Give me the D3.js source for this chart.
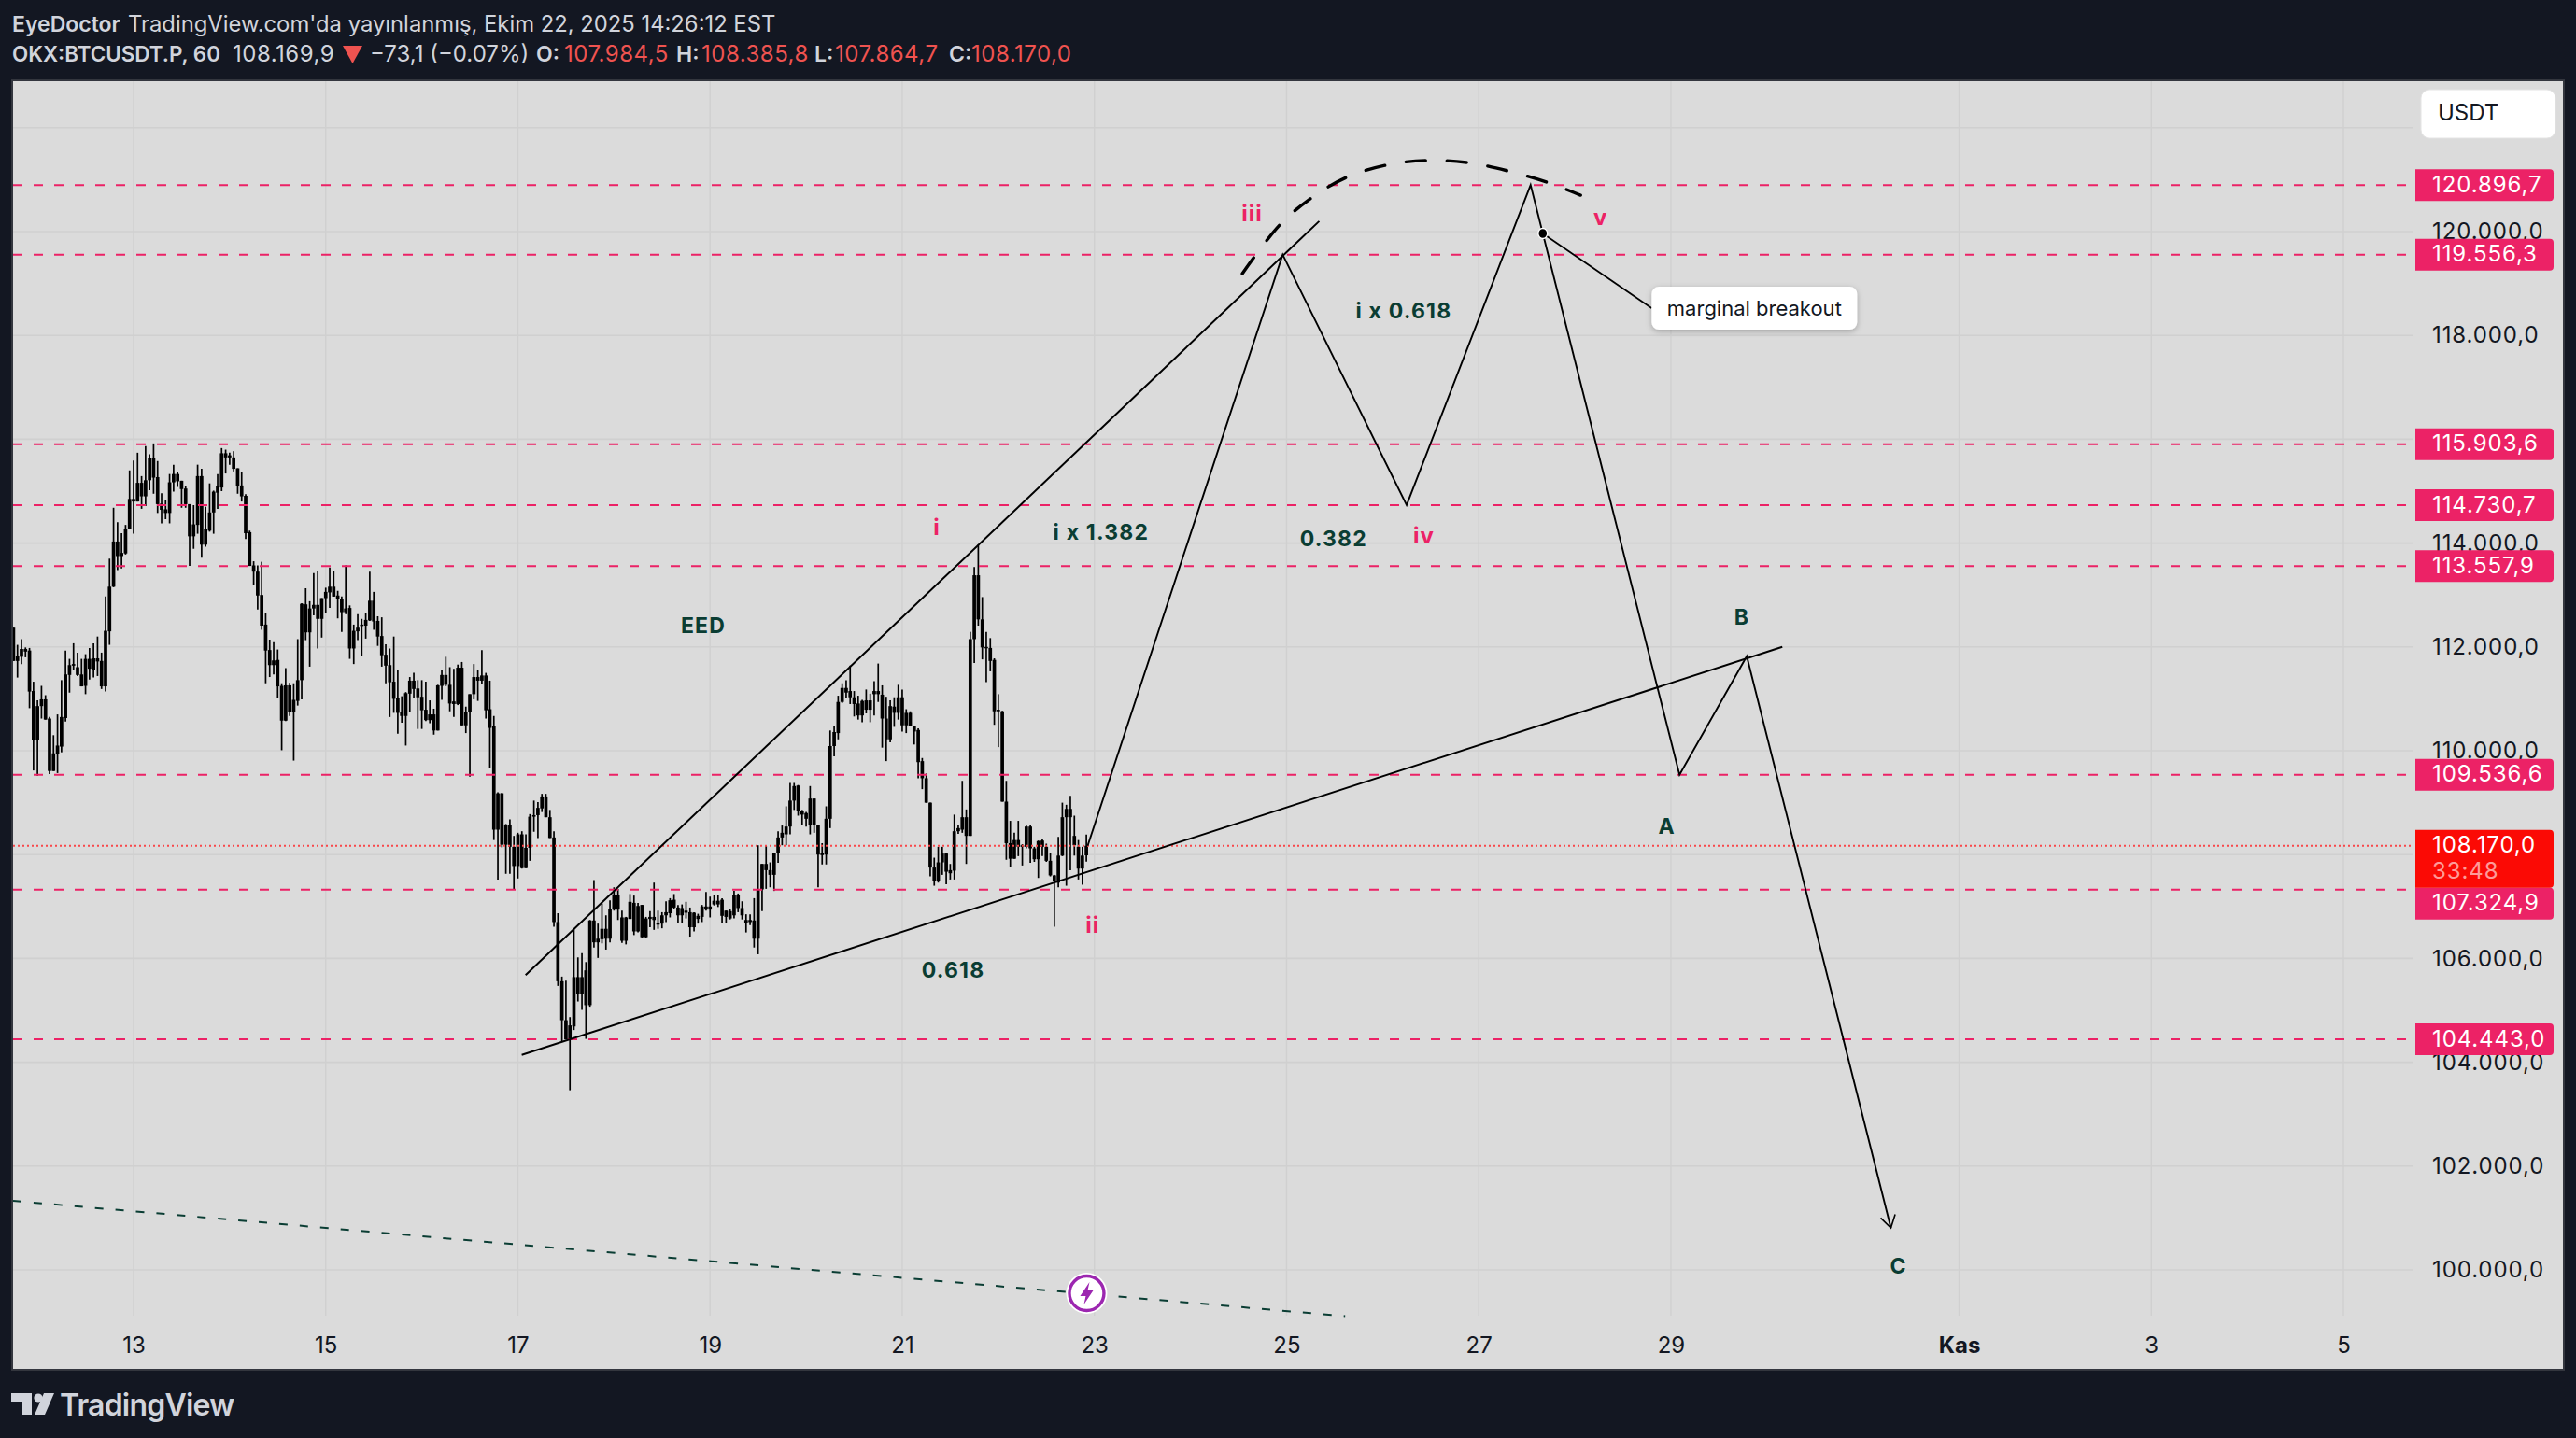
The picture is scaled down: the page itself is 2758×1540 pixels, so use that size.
<!DOCTYPE html>
<html>
<head>
<meta charset="utf-8">
<script src="https://cdnjs.cloudflare.com/ajax/libs/d3/7.8.5/d3.min.js"></script>
<style>
  html, body { margin: 0; padding: 0; background: #131722; }
  svg { display: block; }
  text { font-family: Inter, "Noto Sans", sans-serif; }
</style>
</head>
<body>
<svg id="chart" width="2758" height="1540"></svg>
<script>
// all prices in thousands of USDT, all times in days of October (32 = 1 Kas)

// hourly candles, first one sits at day 11.75. every candle is black so only body top/bottom matter
const highs = [
  112.37,112.04,112.15,111.99,111.98,111.33,110.97,111.25,111.07,110.65,
  110.30,110.70,111.36,111.93,111.77,112.07,111.89,111.77,111.86,111.98,
  112.07,112.20,111.89,112.97,113.70,114.68,114.40,114.19,114.35,115.40,
  115.59,115.74,115.29,115.87,115.71,115.92,115.58,114.96,114.83,115.33,
  115.51,115.37,115.20,115.09,114.75,114.73,115.51,115.43,114.70,115.15,
  115.01,115.33,115.83,115.80,115.74,115.77,115.44,115.36,114.94,114.24,
  113.65,113.57,113.64,112.65,112.14,112.09,111.95,111.30,111.59,111.31,
  111.30,112.15,112.84,113.13,112.88,113.42,113.47,112.94,113.14,113.53,
  113.47,113.08,112.97,113.57,112.80,112.43,112.63,112.54,112.65,113.45,
  113.06,112.59,112.57,112.05,111.97,112.20,111.55,111.05,111.13,111.42,
  111.50,111.36,111.36,111.33,110.97,110.81,111.27,111.55,111.81,111.61,
  111.58,111.66,111.71,110.85,111.09,111.67,111.55,111.94,111.50,111.35,
  110.67,109.20,109.19,108.59,108.68,108.36,108.42,108.45,108.39,108.78,
  109.04,109.01,109.17,109.17,108.86,108.45,106.87,105.65,105.57,104.87,
  106.56,106.02,106.10,105.93,106.74,107.51,106.67,107.06,106.83,107.12,
  107.37,107.34,106.92,106.80,107.24,107.21,107.07,107.03,106.80,106.91,
  107.46,106.92,106.89,107.10,107.16,107.24,107.03,107.04,107.09,106.98,
  106.89,106.86,107.03,107.28,107.19,107.22,107.22,107.16,106.92,106.95,
  107.30,107.25,107.10,106.85,106.85,107.16,108.18,107.82,108.17,107.85,
  108.03,108.45,108.56,108.93,109.38,109.38,109.34,108.86,108.82,109.32,
  109.08,108.57,108.22,108.93,110.39,110.48,111.06,111.30,111.36,111.64,
  111.15,111.06,110.98,111.18,111.10,111.34,111.68,111.26,111.04,110.97,
  111.03,111.27,111.18,110.80,110.76,110.48,110.43,109.86,109.56,109.00,
  107.94,108.15,108.15,108.03,107.82,108.77,108.57,109.42,108.87,112.29,
  113.54,113.97,112.96,112.29,112.17,111.78,111.09,110.77,109.42,108.65,
  108.42,108.65,108.20,108.56,108.57,108.15,108.27,108.30,108.21,108.04,
  107.61,108.34,109.00,108.96,109.13,108.75,108.28,108.15,108.386
];
const lows = [
  111.73,111.41,111.67,111.80,110.82,109.62,109.52,110.62,110.60,109.55,
  109.61,109.57,109.97,110.56,111.12,111.55,111.44,111.24,111.09,111.37,
  111.41,111.44,111.19,111.14,112.04,113.15,113.48,113.51,113.78,114.27,
  114.18,114.80,114.66,114.71,115.02,114.95,114.58,114.38,114.46,114.38,
  114.99,115.08,114.68,114.68,113.56,113.89,114.18,113.72,113.93,114.22,
  114.18,114.66,115.00,115.34,115.51,115.38,114.95,114.80,114.08,113.56,
  113.20,112.72,112.33,111.30,111.42,111.47,111.02,110.01,110.57,110.67,
  109.81,110.87,110.99,112.13,111.62,112.61,111.97,112.18,112.65,112.75,
  112.97,112.55,112.29,112.63,111.77,111.67,112.13,111.82,112.16,112.50,
  112.33,112.02,111.62,111.30,110.65,110.73,110.33,110.54,110.10,110.75,
  111.01,110.42,110.42,110.57,110.53,110.31,110.39,110.98,111.24,110.76,
  110.65,110.88,110.49,110.34,109.50,110.99,110.96,111.29,110.62,109.66,
  108.28,107.52,108.14,107.63,107.63,107.32,107.54,107.73,107.74,107.88,
  108.44,108.32,108.82,108.72,108.32,106.61,105.47,104.40,104.44,103.46,
  104.62,105.17,105.01,104.45,105.07,106.21,106.01,106.29,106.17,106.31,
  106.92,106.74,106.30,106.27,106.76,106.45,106.50,106.40,106.40,106.60,
  106.55,106.57,106.58,106.70,106.79,106.95,106.69,106.69,106.77,106.42,
  106.52,106.67,106.70,106.92,106.79,107.02,106.99,106.68,106.68,106.75,
  106.77,106.89,106.75,106.50,106.64,106.21,106.08,106.91,107.34,107.37,
  107.30,107.84,108.18,108.18,108.39,108.86,108.75,108.57,108.54,108.39,
  108.42,107.37,107.81,107.81,108.51,109.89,110.22,110.92,111.02,110.90,
  110.66,110.60,110.55,110.72,110.55,110.68,110.94,110.06,109.80,110.16,
  110.46,110.60,110.37,110.34,110.48,110.12,109.47,109.26,109.00,107.58,
  107.40,107.46,107.61,107.43,107.52,107.52,108.40,108.42,107.82,108.36,
  111.69,112.41,111.76,111.32,111.53,110.50,110.07,109.02,107.90,107.76,
  107.92,107.97,107.79,108.12,107.84,107.86,107.55,107.97,107.86,107.58,
  106.61,107.37,107.97,107.40,107.70,107.98,107.52,107.42,107.865
];
const bodyTops = [
  112.37,111.83,111.96,111.96,111.93,111.15,110.86,110.99,110.99,110.62,
  109.95,110.10,110.65,111.47,111.65,111.67,111.61,111.47,111.77,111.77,
  111.78,111.78,111.73,112.31,113.16,114.03,114.03,113.81,114.28,114.85,
  114.85,115.16,115.16,115.21,115.64,115.64,115.27,114.76,114.65,115.17,
  115.33,115.33,115.20,115.05,114.75,114.36,115.29,115.29,114.27,114.59,
  114.99,115.09,115.73,115.73,115.69,115.65,115.44,115.11,114.91,114.21,
  113.57,113.45,113.00,112.43,111.94,111.74,111.75,111.25,111.26,111.26,
  110.98,111.36,112.83,112.82,112.74,112.81,112.81,112.94,113.06,113.16,
  113.16,112.99,112.93,112.74,112.75,112.31,112.37,112.43,112.52,112.89,
  112.89,112.50,112.21,111.85,111.65,111.33,111.01,110.74,111.11,111.35,
  111.35,111.20,111.04,110.79,110.70,110.70,111.26,111.46,111.46,111.27,
  110.95,111.60,111.60,110.75,111.09,111.42,111.42,111.45,111.45,110.80,
  110.47,109.18,109.18,108.57,108.57,108.15,108.39,108.39,108.13,108.73,
  108.76,108.90,109.12,109.12,108.72,108.33,106.70,105.56,104.81,104.71,
  105.64,105.64,105.64,105.77,106.73,106.73,106.38,106.57,106.57,106.95,
  107.22,107.22,106.79,106.79,107.09,107.07,107.01,107.03,106.77,106.80,
  106.80,106.68,106.83,106.89,107.12,107.13,106.98,106.97,106.92,106.89,
  106.88,106.82,107.00,107.00,107.00,107.11,107.11,107.13,106.92,106.91,
  107.22,107.22,106.97,106.74,106.74,106.73,107.33,107.82,107.82,107.70,
  108.03,108.33,108.42,108.54,109.04,109.32,109.33,108.84,108.80,109.08,
  109.08,108.57,108.03,108.69,110.09,110.36,110.94,111.21,111.21,111.15,
  111.03,110.91,110.96,110.97,110.97,111.15,111.15,111.08,110.62,110.86,
  110.85,111.03,111.03,110.73,110.73,110.48,110.40,109.80,109.47,109.00,
  107.75,107.85,108.02,108.02,107.70,108.45,108.51,108.72,108.72,112.15,
  113.38,113.38,112.53,112.00,111.98,111.75,110.79,110.76,109.02,108.22,
  108.28,108.28,108.18,108.54,108.54,108.12,108.26,108.27,108.15,107.88,
  107.60,107.98,108.72,108.88,108.88,108.36,108.15,107.98,108.170
];
const bodyBottoms = [
  111.73,111.73,111.81,111.91,111.14,110.20,110.20,110.86,110.60,109.61,
  109.61,109.93,110.08,110.63,111.46,111.64,111.46,111.24,111.25,111.58,
  111.56,111.72,111.24,111.24,112.30,113.16,113.75,113.75,113.80,114.27,
  114.80,114.80,114.90,114.90,115.21,115.26,114.75,114.64,114.58,114.58,
  115.17,115.19,115.04,114.75,114.13,114.13,114.35,113.97,113.97,114.24,
  114.59,114.97,115.07,115.65,115.65,115.43,115.10,114.90,114.19,113.56,
  113.45,112.99,112.41,111.93,111.65,111.65,111.24,110.58,110.58,110.74,
  110.74,110.96,111.36,112.28,112.28,112.74,112.54,112.54,112.94,113.05,
  112.97,112.93,112.67,112.67,111.97,111.97,112.30,112.41,112.41,112.51,
  112.49,112.20,111.84,111.64,111.32,111.00,110.73,110.67,110.67,111.10,
  111.19,111.03,110.78,110.59,110.59,110.39,110.39,111.25,111.27,110.91,
  110.90,110.90,110.49,110.49,110.74,111.09,111.35,111.35,110.78,110.44,
  108.48,108.48,108.19,108.19,108.15,107.78,107.78,107.74,107.74,108.13,
  108.73,108.76,108.89,108.72,108.32,106.70,105.56,104.81,104.44,104.44,
  104.69,105.31,105.31,105.10,105.10,106.31,106.31,106.37,106.38,106.38,
  106.94,106.94,106.34,106.34,106.76,106.52,106.52,106.41,106.41,106.76,
  106.74,106.65,106.67,106.83,106.87,106.98,106.83,106.83,106.88,106.60,
  106.60,106.76,106.80,106.94,106.94,107.04,107.04,106.82,106.80,106.77,
  106.83,106.97,106.83,106.68,106.70,106.38,106.38,107.33,107.70,107.61,
  107.61,108.03,108.33,108.39,108.54,109.04,108.84,108.77,108.69,108.57,
  108.57,108.00,107.99,108.00,108.69,110.09,110.34,110.94,111.12,111.03,
  110.90,110.68,110.68,110.79,110.79,111.09,111.09,110.62,110.22,110.22,
  110.73,110.73,110.49,110.49,110.48,110.37,109.78,109.47,109.00,107.75,
  107.49,107.49,107.85,107.67,107.64,107.69,108.45,108.48,108.36,108.36,
  112.15,112.53,111.99,111.98,111.73,110.76,110.76,109.02,108.22,107.92,
  107.92,108.15,108.15,108.15,108.12,107.91,107.91,108.15,107.88,107.60,
  107.49,107.46,107.98,108.72,108.72,108.18,107.73,107.73,107.985
];
const firstCandleDay = 11.75;

// axes
const timeTicks = [13, 15, 17, 19, 21, 23, 25, 27, 29, 32, 34, 36];
const timeTickLabels = ['13', '15', '17', '19', '21', '23', '25', '27', '29', 'Kas', '3', '5'];
const gridPrices = [100, 102, 104, 106, 108, 110, 112, 114, 116, 118, 120, 122];
// 108, 116 and 122 sit fully behind other labels in the picture, so no text for them
const priceTicks = [100, 102, 104, 106, 110, 112, 114, 118, 120];

// horizontal levels
const levels = [120.8967, 119.5563, 115.9036, 114.7307, 113.5579, 109.5366, 107.3249, 104.443];
const lastPrice = 108.170;
const countdown = '33:48';

// drawings: [day, price]
const upperWedge = [[17.08, 105.68], [25.34, 120.2]];
const lowerWedge = [[17.04, 104.14], [30.16, 112.0]];
const wavePath = [[22.93, 108.17], [24.96, 119.556], [26.25, 114.731], [27.54, 120.897], [29.09, 109.537], [29.79, 111.82], [31.29, 100.81]];
const arcPath = [[24.54, 119.19], [24.93, 120.13], [25.26, 120.65], [25.62, 121.04], [26.04, 121.28], [26.45, 121.37], [26.88, 121.33], [27.30, 121.17], [27.71, 120.95], [28.06, 120.70]];
const greenDash = [[11.746, 101.33], [25.61, 99.11]];
const calloutAnchor = [27.667, 119.964];
const calloutBoxAt = [28.80, 118.525];
const calloutText = 'marginal breakout';
const boltAt = [22.92, 99.55];

// text notes: [label, day, price]
const greenNotes = [
  ['EED', 18.93, 112.41], ['i x 1.382', 23.07, 114.209], ['i x 0.618', 26.22, 118.471],
  ['0.382', 25.49, 114.083], ['0.618', 21.53, 105.773],
  ['A', 28.96, 108.543], ['B', 29.74, 112.572], ['C', 31.37, 100.077]
];
const pinkNotes = [
  ['i', 21.36, 114.298], ['ii', 22.98, 106.636], ['iii', 24.64, 120.342],
  ['iv', 26.43, 114.146], ['v', 28.27, 120.275]
];

const BG = '#131722', PANE = '#dbdbdb', GRID = '#d0d0d0', PINK = '#ec2266', RED = '#fb0a05';
const GREEN = '#0a3d33', INK = '#131722';

const pane = { left: 14, right: 2744, top: 87, bottom: 1466, plotRight: 2584, plotBottom: 1409 };

const x = d3.scaleLinear().domain([13, 36]).range([143, 2509]);
const y = d3.scaleLinear().domain([100, 120]).range([1360, 248]);

const locale = d3.formatLocale({ decimal: ',', thousands: '.', grouping: [3], currency: ['', ''] });
const fmtPrice = (v) => locale.format(',.1f')(v * 1000);

const svg = d3.select('#chart');
svg.append('rect').attr('width', 2758).attr('height', 1540).attr('fill', BG);

const defs = svg.append('defs');
defs.append('clipPath').attr('id', 'plotClip').append('rect')
  .attr('x', pane.left).attr('y', pane.top)
  .attr('width', pane.plotRight - pane.left).attr('height', pane.plotBottom - pane.top);
const shadow = defs.append('filter').attr('id', 'boxShadow')
  .attr('x', '-10%').attr('y', '-20%').attr('width', '120%').attr('height', '150%');
shadow.append('feDropShadow').attr('dx', 0).attr('dy', 2).attr('stdDeviation', 3)
  .attr('flood-color', '#000').attr('flood-opacity', 0.25);
defs.append('marker').attr('id', 'openArrow').attr('markerUnits', 'userSpaceOnUse')
  .attr('markerWidth', 30).attr('markerHeight', 30).attr('refX', 20).attr('refY', 15).attr('orient', 'auto')
  .append('path').attr('d', 'M7,7 L20,15 L7,23').attr('fill', 'none').attr('stroke', '#000').attr('stroke-width', 1.6);

// pane with its thin border
svg.append('rect')
  .attr('x', pane.left - 1).attr('y', pane.top - 1)
  .attr('width', pane.right - pane.left + 2).attr('height', pane.bottom - pane.top + 2)
  .attr('fill', PANE).attr('stroke', '#33363e').attr('stroke-width', 2);

// grid
const grid = svg.append('g');
grid.selectAll('.v').data(timeTicks).join('line')
  .attr('x1', (d) => x(d)).attr('x2', (d) => x(d))
  .attr('y1', pane.top).attr('y2', pane.plotBottom)
  .attr('stroke', GRID).attr('stroke-width', 1.4);
grid.selectAll('.h').data(gridPrices).join('line')
  .attr('x1', pane.left).attr('x2', pane.plotRight)
  .attr('y1', (d) => y(d)).attr('y2', (d) => y(d))
  .attr('stroke', GRID).attr('stroke-width', 1.6);

// axes
const xAxis = d3.axisBottom(x).tickValues(timeTicks).tickSize(0).tickPadding(0)
  .tickFormat((d, i) => timeTickLabels[i]);
const xAxisG = svg.append('g').attr('transform', 'translate(0,1440)').call(xAxis);
xAxisG.select('.domain').remove();
xAxisG.selectAll('text').attr('dy', '0.36em').attr('font-size', 24).attr('fill', INK)
  .attr('font-family', 'Inter, sans-serif')
  .attr('font-weight', (d) => (d === 32 ? 700 : 400));

const yAxis = d3.axisRight(y).tickValues(priceTicks).tickSize(0).tickPadding(0).tickFormat(fmtPrice);
const yAxisG = svg.append('g').attr('transform', 'translate(2604,0)').call(yAxis);
yAxisG.select('.domain').remove();
yAxisG.selectAll('text').attr('font-size', 24).attr('fill', INK).attr('letter-spacing', 0.9)
  .attr('font-family', 'Inter, sans-serif');

// candles
const plot = svg.append('g').attr('clip-path', 'url(#plotClip)');
const candleX = (i) => x(firstCandleDay + i / 24);
plot.append('g').selectAll('line').data(highs).join('line')
  .attr('x1', (d, i) => candleX(i)).attr('x2', (d, i) => candleX(i))
  .attr('y1', (d) => y(d)).attr('y2', (d, i) => y(lows[i]))
  .attr('stroke', '#000').attr('stroke-width', 1.7);
plot.append('g').selectAll('rect').data(bodyTops).join('rect')
  .attr('x', (d, i) => candleX(i) - 1.85).attr('width', 3.7)
  .attr('y', (d) => y(d))
  .attr('height', (d, i) => Math.max(1.5, y(bodyBottoms[i]) - y(d)))
  .attr('fill', '#000');

// level lines and last price line
plot.append('g').selectAll('line').data(levels).join('line')
  .attr('x1', pane.left).attr('x2', pane.plotRight)
  .attr('y1', (d) => y(d)).attr('y2', (d) => y(d))
  .attr('stroke', PINK).attr('stroke-width', 2).attr('stroke-dasharray', '10 12');
plot.append('line')
  .attr('x1', pane.left).attr('x2', pane.plotRight)
  .attr('y1', y(lastPrice)).attr('y2', y(lastPrice))
  .attr('stroke', '#f9474a').attr('stroke-width', 2).attr('stroke-dasharray', '2 3');

// drawings
const line = d3.line().x((d) => x(d[0])).y((d) => y(d[1]));
const draw = svg.append('g');
[upperWedge, lowerWedge].forEach((pts) => {
  draw.append('path').attr('d', line(pts)).attr('fill', 'none').attr('stroke', '#000').attr('stroke-width', 2);
});
draw.append('path').attr('d', line(wavePath)).attr('fill', 'none').attr('stroke', '#000')
  .attr('stroke-width', 1.9).attr('stroke-linejoin', 'miter').attr('marker-end', 'url(#openArrow)');
draw.append('path').attr('d', line.curve(d3.curveCatmullRom)(arcPath)).attr('fill', 'none')
  .attr('stroke', '#000').attr('stroke-width', 3.4).attr('stroke-linecap', 'round')
  .attr('stroke-dasharray', '21 23');
line.curve(d3.curveLinear);
draw.append('path').attr('d', line(greenDash)).attr('fill', 'none').attr('stroke', GREEN)
  .attr('stroke-width', 2).attr('stroke-dasharray', '9 13');

// callout
draw.append('line')
  .attr('x1', x(calloutAnchor[0])).attr('y1', y(calloutAnchor[1]))
  .attr('x2', x(calloutBoxAt[0])).attr('y2', y(calloutBoxAt[1]))
  .attr('stroke', '#000').attr('stroke-width', 1.8);
draw.append('ellipse').attr('cx', x(calloutAnchor[0])).attr('cy', y(calloutAnchor[1]))
  .attr('rx', 5).attr('ry', 5.5).attr('fill', '#000').attr('stroke', '#fff').attr('stroke-width', 1.4);
const boxG = draw.append('g').attr('transform', `translate(${x(calloutBoxAt[0])},${y(calloutBoxAt[1])})`);
boxG.append('rect').attr('x', 0).attr('y', -23).attr('width', 220).attr('height', 46).attr('rx', 8)
  .attr('fill', '#fff').attr('filter', 'url(#boxShadow)');
boxG.append('text').attr('x', 110).attr('dy', '0.35em').attr('text-anchor', 'middle')
  .attr('font-size', 22).attr('fill', INK).text(calloutText);

// notes
draw.selectAll('.green').data(greenNotes).join('text')
  .attr('x', (d) => x(d[1])).attr('y', (d) => y(d[2])).attr('dy', '0.35em')
  .attr('text-anchor', 'middle').attr('font-size', 23).attr('font-weight', 700)
  .attr('letter-spacing', 1.2).attr('fill', GREEN).text((d) => d[0]);
draw.selectAll('.pink').data(pinkNotes).join('text')
  .attr('x', (d) => x(d[1])).attr('y', (d) => y(d[2])).attr('dy', '0.35em')
  .attr('text-anchor', 'middle').attr('font-size', 24).attr('font-weight', 700)
  .attr('letter-spacing', 1).attr('fill', PINK).text((d) => d[0]);

// lightning badge
const bolt = draw.append('g').attr('transform', `translate(${x(boltAt[0])},${y(boltAt[1])})`);
bolt.append('circle').attr('r', 22).attr('fill', '#fff');
bolt.append('circle').attr('r', 18.5).attr('fill', '#fff').attr('stroke', '#9c27b0').attr('stroke-width', 3.4);
bolt.append('path').attr('d', 'M3,-12 L-7,3 L-1,3 L-3,12 L7,-3 L1,-3 Z').attr('fill', '#9c27b0');

// right side labels
const labels = svg.append('g');
const labelShift = (d) => (d === 107.3249 ? 15 : 0);
const labelPath = (top, h) => `M2586,${top} H2730 a4,4 0 0 1 4,4 V${top + h - 4} a4,4 0 0 1 -4,4 H2586 Z`;
labels.selectAll('path').data(levels).join('path')
  .attr('d', (d) => labelPath(y(d) + labelShift(d) - 17, 34)).attr('fill', PINK);
labels.selectAll('text').data(levels).join('text')
  .attr('x', 2604).attr('y', (d) => y(d) + labelShift(d)).attr('dy', '0.32em')
  .attr('font-size', 24).attr('letter-spacing', 0.9).attr('fill', '#fff').text(fmtPrice);
labels.append('path').attr('d', labelPath(y(lastPrice) - 17, 62)).attr('fill', RED);
labels.append('text').attr('x', 2604).attr('y', y(lastPrice)).attr('dy', '0.32em')
  .attr('font-size', 24).attr('letter-spacing', 0.9).attr('fill', '#fff').text(fmtPrice(lastPrice));
labels.append('text').attr('x', 2604).attr('y', y(lastPrice) + 28).attr('dy', '0.32em')
  .attr('font-size', 24).attr('letter-spacing', 0.9).attr('fill', '#fff').attr('fill-opacity', 0.6).text(countdown);

// currency button
svg.append('rect').attr('x', 2592).attr('y', 96).attr('width', 144).attr('height', 52).attr('rx', 9)
  .attr('fill', '#fff').attr('stroke', '#e4e4e4');
svg.append('text').attr('x', 2610).attr('y', 121).attr('dy', '0.35em').attr('font-size', 24)
  .attr('fill', INK).text('USDT');

// header: [text, x, colour, weight, font size, letter spacing]
const LIGHT = '#d1d4dc', QUOTE_RED = '#ef5350';
const headerLine1 = [
  ['EyeDoctor', 13, LIGHT, 600, 23, 0],
  ["TradingView.com'da yayınlanmış, Ekim 22, 2025 14:26:12 EST", 137, LIGHT, 400, 23.8, 0]
];
const headerLine2 = [
  ['OKX:BTCUSDT.P, 60', 13, LIGHT, 600, 22.4, 0], ['108.169,9', 249, LIGHT, 400, 24, 0.5],
  ['−73,1 (−0.07%)', 396, LIGHT, 400, 24, 0],
  ['O:', 574, LIGHT, 600, 23, 0], ['107.984,5', 604, QUOTE_RED, 400, 24, 0.5],
  ['H:', 724, LIGHT, 600, 23, 0], ['108.385,8', 751, QUOTE_RED, 400, 24, 0.5],
  ['L:', 872, LIGHT, 600, 23, 0], ['107.864,7', 894, QUOTE_RED, 400, 24, 0.5],
  ['C:', 1016, LIGHT, 600, 23, 0], ['108.170,0', 1040, QUOTE_RED, 400, 24, 0.5]
];
const header = svg.append('g');
[[headerLine1, 26], [headerLine2, 58]].forEach(([row, yy]) => {
  header.append('g').selectAll('text').data(row).join('text')
    .attr('x', (d) => d[1]).attr('y', yy).attr('dy', '0.35em')
    .attr('fill', (d) => d[2]).attr('font-weight', (d) => d[3])
    .attr('font-size', (d) => d[4]).attr('letter-spacing', (d) => d[5]).text((d) => d[0]);
});
header.append('path').attr('d', 'M367,49 H388 L377.5,68 Z').attr('fill', QUOTE_RED);

// TradingView mark
const logo = svg.append('g').attr('fill', LIGHT);
logo.append('path').attr('d', 'M12,1492 H34 V1515 H24 V1501 H12 Z');
logo.append('circle').attr('cx', 41).attr('cy', 1497).attr('r', 4.6);
logo.append('path').attr('d', 'M47,1492 H58 L48,1515 H37 Z');
logo.append('text').attr('x', 64).attr('y', 1505).attr('dy', '0.35em').attr('font-size', 32)
  .attr('font-weight', 600).attr('letter-spacing', -0.8).text('TradingView');
</script>
</body>
</html>
